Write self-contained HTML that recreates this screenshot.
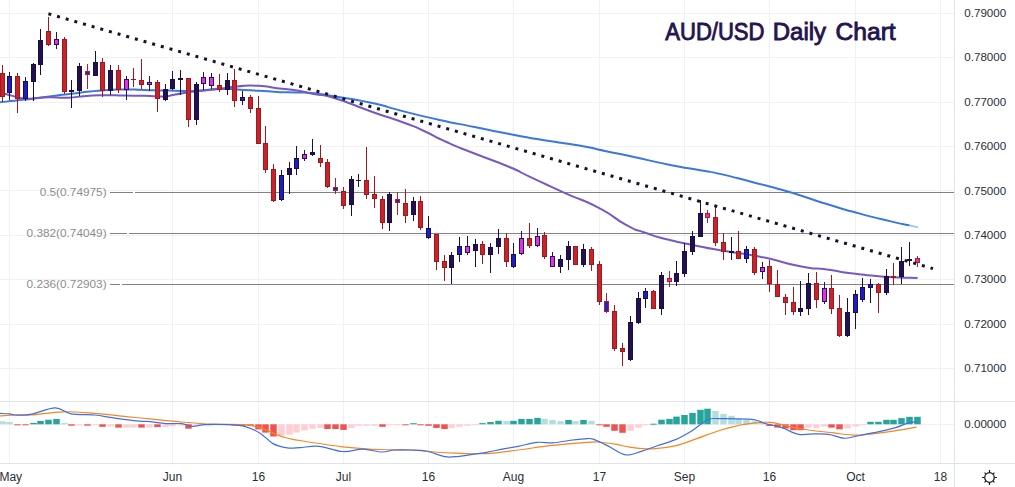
<!DOCTYPE html><html><head><meta charset="utf-8"><style>html,body{margin:0;padding:0;background:#fff;width:1015px;height:487px;overflow:hidden}svg{display:block}text{font-family:"Liberation Sans",sans-serif}</style></head><body>
<svg width="1015" height="487" viewBox="0 0 1015 487" shape-rendering="crispEdges">
<rect width="1015" height="487" fill="#fff"/>
<path d="M0 13.5H954 M0 57.5H954 M0 102.5H954 M0 146.5H954 M0 190.5H954 M0 235.5H954 M0 279.5H954 M0 324.5H954 M0 368.5H954 M0 424.5H954 M9.5 0V463 M172.5 0V463 M258.5 0V463 M343.5 0V463 M428.5 0V463 M513.5 0V463 M599.5 0V463 M684.5 0V463 M769.5 0V463 M855.5 0V463 M940.5 0V463" stroke="#f0f1f4" stroke-width="1" fill="none"/>
<path d="M0 401.5H1015 M0 463.5H1015 M954.5 0V487" stroke="#e0e3eb" stroke-width="1" fill="none"/>
<path d="M110 192.5H132.5 M134.5 192.5H954 M110 233.5H126.8 M128.8 233.5H954 M110 284.5H119.8 M122 284.5H954" stroke="#828282" stroke-width="1" fill="none"/>
<text x="106.6" y="196.0" font-size="11.8" fill="#8d8d8f" text-anchor="end">0.5(0.74975)</text>
<text x="106.6" y="237.0" font-size="11.8" fill="#8d8d8f" text-anchor="end">0.382(0.74049)</text>
<text x="106.6" y="288.0" font-size="11.8" fill="#8d8d8f" text-anchor="end">0.236(0.72903)</text>
<path d="M0.0 102.3C8.2 101.4 8.2 101.5 24.6 99.6C41.0 97.7 32.9 98.6 49.3 96.5C65.7 94.4 57.5 95.3 73.9 93.4C90.3 91.5 81.5 92.0 98.5 90.7C115.5 89.4 109.6 89.7 125.0 89.5C140.4 89.3 129.8 89.6 144.6 90.0C159.4 90.4 152.9 90.3 169.3 90.6C185.7 90.9 177.5 91.4 193.9 90.9C210.3 90.4 203.1 89.4 218.5 89.0C233.9 88.6 226.7 89.1 240.0 89.7C253.3 90.3 246.2 90.0 258.5 90.7C270.8 91.4 264.7 91.3 277.0 91.9C289.3 92.5 283.1 92.0 295.4 92.4C307.7 92.8 300.7 91.8 313.9 93.2C327.1 94.6 316.3 93.5 334.9 96.6C353.5 99.7 346.5 97.6 369.8 102.6C393.1 107.6 381.4 105.8 404.7 111.6C428.0 117.4 416.3 114.9 439.6 120.0C462.9 125.1 451.2 122.3 474.5 127.0C497.8 131.7 486.2 129.6 509.4 134.0C532.6 138.4 520.9 136.5 544.2 140.3C567.5 144.1 558.9 141.9 579.2 145.5C599.5 149.1 586.8 147.2 605.0 151.0C623.2 154.8 613.0 152.5 633.9 157.0C654.8 161.5 645.2 159.9 667.8 164.4C690.4 168.9 684.3 167.3 701.7 170.5C719.1 173.7 702.3 169.8 720.0 173.9C737.7 178.0 731.6 176.7 754.7 182.7C777.8 188.7 765.4 184.9 789.4 192.0C813.4 199.1 803.6 196.9 826.8 204.0C850.0 211.1 837.5 207.6 858.9 213.4C880.3 219.2 874.0 217.4 890.9 221.4C907.8 225.4 903.4 224.1 909.6 225.4" fill="none" stroke="#3a78de" stroke-width="2" shape-rendering="geometricPrecision" stroke-linejoin="round"/>
<path d="M909.6 225.4L918 227.4" fill="none" stroke="#a8c0ee" stroke-width="2" shape-rendering="geometricPrecision"/>
<path d="M0.0 92.0C4.1 93.3 4.1 93.7 12.3 95.9C20.5 98.1 16.4 97.9 24.6 98.6C32.8 99.3 28.8 98.4 37.0 98.0C45.2 97.6 39.1 97.4 49.3 97.3C59.5 97.2 55.4 98.2 67.7 97.7C80.0 97.2 73.9 96.7 86.2 95.9C98.5 95.1 91.8 95.3 104.7 95.2C117.6 95.1 111.7 95.4 125.0 95.6C138.3 95.8 131.9 95.5 144.6 95.8C157.3 96.1 152.7 96.8 163.0 96.4C173.3 96.0 165.1 96.2 175.4 94.6C185.7 93.0 179.5 93.4 193.9 91.5C208.3 89.6 204.1 90.7 218.5 89.0C232.9 87.3 223.7 87.6 237.0 86.5C250.3 85.4 245.2 85.2 258.5 85.8C271.8 86.4 264.7 86.7 277.0 88.2C289.3 89.7 283.1 88.4 295.4 90.3C307.7 92.2 300.7 91.4 313.9 94.0C327.1 96.6 316.3 92.5 334.9 98.2C353.5 103.9 346.5 102.7 369.8 111.0C393.1 119.3 386.6 116.3 404.7 123.0C422.8 129.7 410.1 124.7 424.0 131.0C437.9 137.3 429.7 134.5 446.5 142.0C463.3 149.5 453.5 145.2 474.5 153.5C495.5 161.8 490.9 159.2 509.4 167.0C527.9 174.8 511.8 168.3 530.0 176.8C548.2 185.3 541.3 182.4 563.9 192.6C586.5 202.8 577.1 196.6 597.8 207.3C618.5 218.0 610.2 216.3 626.0 224.8C641.8 233.3 631.3 227.8 645.2 232.7C659.1 237.6 652.7 235.6 667.8 239.5C682.9 243.4 673.0 240.8 690.4 244.4C707.8 248.0 696.8 246.2 720.0 250.3C743.2 254.4 733.3 251.4 760.0 256.7C786.7 262.0 777.8 262.0 800.1 266.3C822.4 270.6 809.0 267.1 826.8 269.5C844.6 271.9 833.9 271.1 853.5 273.5C873.1 275.9 864.2 275.2 885.6 276.7C907.0 278.2 906.9 277.6 917.6 278.0" fill="none" stroke="#765ac2" stroke-width="2" shape-rendering="geometricPrecision" stroke-linejoin="round"/>
<rect x="2" y="64.5" width="1" height="37.5" fill="#a3161c"/>
<rect x="0" y="73.0" width="5" height="24.3" fill="#a3161c"/>
<rect x="1" y="74.0" width="3" height="22.3" fill="#c4242b"/>
<rect x="9" y="72.0" width="1" height="27.8" fill="#1c0d45"/>
<rect x="7" y="75.9" width="5" height="17.0" fill="#1c0d45"/>
<rect x="8" y="76.9" width="3" height="15.0" fill="#1c1ccc"/>
<rect x="17" y="73.0" width="1" height="40.0" fill="#a3161c"/>
<rect x="15" y="75.9" width="5" height="22.6" fill="#a3161c"/>
<rect x="16" y="76.9" width="3" height="20.6" fill="#c4242b"/>
<rect x="25" y="77.0" width="1" height="23.5" fill="#1c0d45"/>
<rect x="23" y="80.8" width="5" height="17.7" fill="#1c0d45"/>
<rect x="24" y="81.8" width="3" height="15.7" fill="#1c1ccc"/>
<rect x="33" y="62.8" width="1" height="38.2" fill="#1c0d45"/>
<rect x="31" y="63.5" width="5" height="18.3" fill="#1c0d45"/>
<rect x="32" y="64.5" width="3" height="16.3" fill="#22104f"/>
<rect x="40" y="29.0" width="1" height="45.6" fill="#1c0d45"/>
<rect x="38" y="39.9" width="5" height="24.9" fill="#1c0d45"/>
<rect x="39" y="40.9" width="3" height="22.9" fill="#22104f"/>
<rect x="48" y="17.3" width="1" height="28.3" fill="#a3161c"/>
<rect x="46" y="31.1" width="5" height="13.8" fill="#a3161c"/>
<rect x="47" y="32.1" width="3" height="11.8" fill="#c4242b"/>
<rect x="56" y="32.0" width="1" height="16.6" fill="#2a1060"/>
<rect x="54" y="39.1" width="5" height="5.8" fill="#2a1060"/>
<rect x="55" y="40.1" width="3" height="3.8" fill="#e62ee6"/>
<rect x="64" y="37.0" width="1" height="56.6" fill="#a3161c"/>
<rect x="62" y="38.7" width="5" height="53.7" fill="#a3161c"/>
<rect x="63" y="39.7" width="3" height="51.7" fill="#c4242b"/>
<rect x="71" y="80.0" width="1" height="27.6" fill="#1c0d45"/>
<rect x="69" y="90.0" width="5" height="1.6" fill="#1c0d45"/>
<rect x="79" y="63.0" width="1" height="32.6" fill="#1c0d45"/>
<rect x="77" y="66.0" width="5" height="24.6" fill="#1c0d45"/>
<rect x="78" y="67.0" width="3" height="22.6" fill="#22104f"/>
<rect x="87" y="64.0" width="1" height="24.7" fill="#b0202a"/>
<rect x="85" y="71.0" width="5" height="4.4" fill="#b0202a"/>
<rect x="86" y="72.0" width="3" height="2.4" fill="#2222c8"/>
<rect x="95" y="51.2" width="1" height="25.2" fill="#1c0d45"/>
<rect x="93" y="62.3" width="5" height="13.6" fill="#1c0d45"/>
<rect x="94" y="63.3" width="3" height="11.6" fill="#22104f"/>
<rect x="102" y="58.4" width="1" height="38.9" fill="#a3161c"/>
<rect x="100" y="62.0" width="5" height="28.6" fill="#a3161c"/>
<rect x="101" y="63.0" width="3" height="26.6" fill="#c4242b"/>
<rect x="110" y="65.3" width="1" height="29.5" fill="#1c0d45"/>
<rect x="108" y="70.2" width="5" height="20.4" fill="#1c0d45"/>
<rect x="109" y="71.2" width="3" height="18.4" fill="#22104f"/>
<rect x="118" y="65.3" width="1" height="27.8" fill="#a3161c"/>
<rect x="116" y="70.2" width="5" height="19.7" fill="#a3161c"/>
<rect x="117" y="71.2" width="3" height="17.7" fill="#c4242b"/>
<rect x="126" y="76.4" width="1" height="23.4" fill="#2a1060"/>
<rect x="124" y="79.3" width="5" height="10.6" fill="#2a1060"/>
<rect x="125" y="80.3" width="3" height="8.6" fill="#e62ee6"/>
<rect x="133" y="67.7" width="1" height="19.7" fill="#a3161c"/>
<rect x="131" y="78.8" width="5" height="1.5" fill="#a3161c"/>
<rect x="141" y="59.0" width="1" height="29.7" fill="#a3161c"/>
<rect x="139" y="80.0" width="5" height="4.5" fill="#a3161c"/>
<rect x="140" y="81.0" width="3" height="2.5" fill="#c4242b"/>
<rect x="149" y="76.4" width="1" height="14.7" fill="#2a1060"/>
<rect x="147" y="82.0" width="5" height="2.5" fill="#2a1060"/>
<rect x="148" y="83.0" width="3" height="0.5" fill="#e62ee6"/>
<rect x="157" y="80.0" width="1" height="32.0" fill="#a3161c"/>
<rect x="155" y="82.0" width="5" height="16.5" fill="#a3161c"/>
<rect x="156" y="83.0" width="3" height="14.5" fill="#c4242b"/>
<rect x="165" y="83.7" width="1" height="17.3" fill="#1c0d45"/>
<rect x="163" y="89.2" width="5" height="10.6" fill="#1c0d45"/>
<rect x="164" y="90.2" width="3" height="8.6" fill="#22104f"/>
<rect x="172" y="71.4" width="1" height="19.0" fill="#1c0d45"/>
<rect x="170" y="78.8" width="5" height="10.4" fill="#1c0d45"/>
<rect x="171" y="79.8" width="3" height="8.4" fill="#22104f"/>
<rect x="180" y="69.5" width="1" height="25.3" fill="#1c0d45"/>
<rect x="178" y="78.3" width="5" height="1.2" fill="#1c0d45"/>
<rect x="188" y="77.6" width="1" height="48.9" fill="#a3161c"/>
<rect x="186" y="78.0" width="5" height="42.3" fill="#a3161c"/>
<rect x="187" y="79.0" width="3" height="40.3" fill="#c4242b"/>
<rect x="196" y="82.2" width="1" height="42.3" fill="#1c0d45"/>
<rect x="194" y="83.9" width="5" height="36.4" fill="#1c0d45"/>
<rect x="195" y="84.9" width="3" height="34.4" fill="#22104f"/>
<rect x="203" y="72.2" width="1" height="17.8" fill="#2a1060"/>
<rect x="201" y="77.0" width="5" height="7.2" fill="#2a1060"/>
<rect x="202" y="78.0" width="3" height="5.2" fill="#e62ee6"/>
<rect x="211" y="73.2" width="1" height="16.0" fill="#2a1060"/>
<rect x="209" y="77.0" width="5" height="8.5" fill="#2a1060"/>
<rect x="210" y="78.0" width="3" height="6.5" fill="#e62ee6"/>
<rect x="219" y="74.0" width="1" height="18.4" fill="#a3161c"/>
<rect x="217" y="85.0" width="5" height="5.0" fill="#a3161c"/>
<rect x="218" y="86.0" width="3" height="3.0" fill="#c4242b"/>
<rect x="227" y="73.2" width="1" height="21.6" fill="#1c0d45"/>
<rect x="225" y="80.0" width="5" height="10.0" fill="#1c0d45"/>
<rect x="226" y="81.0" width="3" height="8.0" fill="#22104f"/>
<rect x="234" y="68.6" width="1" height="38.7" fill="#a3161c"/>
<rect x="232" y="80.2" width="5" height="20.4" fill="#a3161c"/>
<rect x="233" y="81.2" width="3" height="18.4" fill="#c4242b"/>
<rect x="242" y="90.8" width="1" height="14.0" fill="#1c0d45"/>
<rect x="240" y="97.4" width="5" height="3.2" fill="#1c0d45"/>
<rect x="241" y="98.4" width="3" height="1.2" fill="#1c1ccc"/>
<rect x="250" y="94.5" width="1" height="18.5" fill="#a3161c"/>
<rect x="248" y="96.5" width="5" height="12.0" fill="#a3161c"/>
<rect x="249" y="97.5" width="3" height="10.0" fill="#c4242b"/>
<rect x="258" y="95.7" width="1" height="48.0" fill="#a3161c"/>
<rect x="256" y="108.0" width="5" height="35.7" fill="#a3161c"/>
<rect x="257" y="109.0" width="3" height="33.7" fill="#c4242b"/>
<rect x="265" y="126.0" width="1" height="47.4" fill="#a3161c"/>
<rect x="263" y="143.3" width="5" height="26.4" fill="#a3161c"/>
<rect x="264" y="144.3" width="3" height="24.4" fill="#c4242b"/>
<rect x="273" y="163.5" width="1" height="38.2" fill="#a3161c"/>
<rect x="271" y="169.2" width="5" height="31.8" fill="#a3161c"/>
<rect x="272" y="170.2" width="3" height="29.8" fill="#c4242b"/>
<rect x="281" y="170.2" width="1" height="30.3" fill="#1c0d45"/>
<rect x="279" y="175.1" width="5" height="24.7" fill="#1c0d45"/>
<rect x="280" y="176.1" width="3" height="22.7" fill="#1c1ccc"/>
<rect x="289" y="161.8" width="1" height="32.0" fill="#1c0d45"/>
<rect x="287" y="168.0" width="5" height="7.4" fill="#1c0d45"/>
<rect x="288" y="169.0" width="3" height="5.4" fill="#22104f"/>
<rect x="296" y="146.2" width="1" height="28.4" fill="#1c0d45"/>
<rect x="294" y="158.1" width="5" height="10.4" fill="#1c0d45"/>
<rect x="295" y="159.1" width="3" height="8.4" fill="#1c1ccc"/>
<rect x="304" y="150.0" width="1" height="11.0" fill="#2a1060"/>
<rect x="302" y="154.2" width="5" height="4.4" fill="#2a1060"/>
<rect x="303" y="155.2" width="3" height="2.4" fill="#e62ee6"/>
<rect x="312" y="139.3" width="1" height="16.3" fill="#1c0d45"/>
<rect x="310" y="152.4" width="5" height="2.2" fill="#1c0d45"/>
<rect x="320" y="145.0" width="1" height="21.7" fill="#a3161c"/>
<rect x="318" y="158.1" width="5" height="4.7" fill="#a3161c"/>
<rect x="319" y="159.1" width="3" height="2.7" fill="#c4242b"/>
<rect x="327" y="159.4" width="1" height="28.8" fill="#a3161c"/>
<rect x="325" y="161.8" width="5" height="25.6" fill="#a3161c"/>
<rect x="326" y="162.8" width="3" height="23.6" fill="#c4242b"/>
<rect x="335" y="178.3" width="1" height="16.0" fill="#b0202a"/>
<rect x="333" y="187.4" width="5" height="3.7" fill="#b0202a"/>
<rect x="334" y="188.4" width="3" height="1.7" fill="#2222c8"/>
<rect x="343" y="187.0" width="1" height="22.1" fill="#a3161c"/>
<rect x="341" y="191.1" width="5" height="15.1" fill="#a3161c"/>
<rect x="342" y="192.1" width="3" height="13.1" fill="#c4242b"/>
<rect x="351" y="175.9" width="1" height="40.1" fill="#1c0d45"/>
<rect x="349" y="179.0" width="5" height="26.4" fill="#1c0d45"/>
<rect x="350" y="180.0" width="3" height="24.4" fill="#22104f"/>
<rect x="358" y="174.1" width="1" height="13.3" fill="#1c0d45"/>
<rect x="356" y="180.0" width="5" height="1.2" fill="#1c0d45"/>
<rect x="366" y="146.7" width="1" height="52.6" fill="#a3161c"/>
<rect x="364" y="180.0" width="5" height="14.8" fill="#a3161c"/>
<rect x="365" y="181.0" width="3" height="12.8" fill="#c4242b"/>
<rect x="374" y="175.9" width="1" height="32.0" fill="#a3161c"/>
<rect x="372" y="194.3" width="5" height="5.0" fill="#a3161c"/>
<rect x="373" y="195.3" width="3" height="3.0" fill="#c4242b"/>
<rect x="382" y="195.6" width="1" height="33.2" fill="#a3161c"/>
<rect x="380" y="198.8" width="5" height="24.6" fill="#a3161c"/>
<rect x="381" y="199.8" width="3" height="22.6" fill="#c4242b"/>
<rect x="389" y="192.4" width="1" height="38.9" fill="#1c0d45"/>
<rect x="387" y="193.8" width="5" height="29.6" fill="#1c0d45"/>
<rect x="388" y="194.8" width="3" height="27.6" fill="#22104f"/>
<rect x="397" y="192.4" width="1" height="22.1" fill="#b0202a"/>
<rect x="395" y="199.3" width="5" height="4.1" fill="#b0202a"/>
<rect x="396" y="200.3" width="3" height="2.1" fill="#2222c8"/>
<rect x="405" y="188.9" width="1" height="34.5" fill="#a3161c"/>
<rect x="403" y="203.0" width="5" height="13.0" fill="#a3161c"/>
<rect x="404" y="204.0" width="3" height="11.0" fill="#c4242b"/>
<rect x="413" y="197.3" width="1" height="24.1" fill="#1c0d45"/>
<rect x="411" y="201.0" width="5" height="14.3" fill="#1c0d45"/>
<rect x="412" y="202.0" width="3" height="12.3" fill="#22104f"/>
<rect x="420" y="195.6" width="1" height="34.4" fill="#a3161c"/>
<rect x="418" y="201.0" width="5" height="27.3" fill="#a3161c"/>
<rect x="419" y="202.0" width="3" height="25.3" fill="#c4242b"/>
<rect x="428" y="216.0" width="1" height="22.7" fill="#1c0d45"/>
<rect x="426" y="227.6" width="5" height="10.6" fill="#1c0d45"/>
<rect x="427" y="228.6" width="3" height="8.6" fill="#1c1ccc"/>
<rect x="436" y="234.0" width="1" height="36.2" fill="#a3161c"/>
<rect x="434" y="234.0" width="5" height="27.6" fill="#a3161c"/>
<rect x="435" y="235.0" width="3" height="25.6" fill="#c4242b"/>
<rect x="444" y="254.7" width="1" height="26.1" fill="#a3161c"/>
<rect x="442" y="261.0" width="5" height="6.7" fill="#a3161c"/>
<rect x="443" y="262.0" width="3" height="4.7" fill="#c4242b"/>
<rect x="451" y="252.2" width="1" height="32.0" fill="#1c0d45"/>
<rect x="449" y="255.4" width="5" height="12.3" fill="#1c0d45"/>
<rect x="450" y="256.4" width="3" height="10.3" fill="#22104f"/>
<rect x="459" y="236.5" width="1" height="25.1" fill="#1c0d45"/>
<rect x="457" y="246.3" width="5" height="9.1" fill="#1c0d45"/>
<rect x="458" y="247.3" width="3" height="7.1" fill="#1c1ccc"/>
<rect x="467" y="235.7" width="1" height="19.0" fill="#2a1060"/>
<rect x="465" y="246.3" width="5" height="6.7" fill="#2a1060"/>
<rect x="466" y="247.3" width="3" height="4.7" fill="#e62ee6"/>
<rect x="475" y="239.4" width="1" height="27.1" fill="#1c0d45"/>
<rect x="473" y="244.3" width="5" height="6.2" fill="#1c0d45"/>
<rect x="474" y="245.3" width="3" height="4.2" fill="#22104f"/>
<rect x="482" y="240.6" width="1" height="22.9" fill="#a3161c"/>
<rect x="480" y="244.3" width="5" height="11.1" fill="#a3161c"/>
<rect x="481" y="245.3" width="3" height="9.1" fill="#c4242b"/>
<rect x="490" y="243.1" width="1" height="29.6" fill="#1c0d45"/>
<rect x="488" y="247.3" width="5" height="8.1" fill="#1c0d45"/>
<rect x="489" y="248.3" width="3" height="6.1" fill="#22104f"/>
<rect x="498" y="229.0" width="1" height="24.7" fill="#1c0d45"/>
<rect x="496" y="238.2" width="5" height="9.1" fill="#1c0d45"/>
<rect x="497" y="239.2" width="3" height="7.1" fill="#22104f"/>
<rect x="506" y="233.3" width="1" height="33.2" fill="#a3161c"/>
<rect x="504" y="238.2" width="5" height="23.4" fill="#a3161c"/>
<rect x="505" y="239.2" width="3" height="21.4" fill="#c4242b"/>
<rect x="513" y="243.1" width="1" height="24.6" fill="#1c0d45"/>
<rect x="511" y="254.2" width="5" height="12.3" fill="#1c0d45"/>
<rect x="512" y="255.2" width="3" height="10.3" fill="#1c1ccc"/>
<rect x="521" y="230.8" width="1" height="23.9" fill="#2a1060"/>
<rect x="519" y="238.2" width="5" height="16.0" fill="#2a1060"/>
<rect x="520" y="239.2" width="3" height="14.0" fill="#e62ee6"/>
<rect x="529" y="223.4" width="1" height="24.6" fill="#a3161c"/>
<rect x="527" y="238.2" width="5" height="7.4" fill="#a3161c"/>
<rect x="528" y="239.2" width="3" height="5.4" fill="#c4242b"/>
<rect x="537" y="228.3" width="1" height="18.5" fill="#2a1060"/>
<rect x="535" y="235.7" width="5" height="9.9" fill="#2a1060"/>
<rect x="536" y="236.7" width="3" height="7.9" fill="#e62ee6"/>
<rect x="544" y="232.0" width="1" height="27.1" fill="#a3161c"/>
<rect x="542" y="235.0" width="5" height="21.7" fill="#a3161c"/>
<rect x="543" y="236.0" width="3" height="19.7" fill="#c4242b"/>
<rect x="552" y="251.7" width="1" height="15.3" fill="#2a1060"/>
<rect x="550" y="256.2" width="5" height="10.8" fill="#2a1060"/>
<rect x="551" y="257.2" width="3" height="8.8" fill="#e62ee6"/>
<rect x="560" y="255.4" width="1" height="17.3" fill="#1c0d45"/>
<rect x="558" y="259.1" width="5" height="7.9" fill="#1c0d45"/>
<rect x="559" y="260.1" width="3" height="5.9" fill="#22104f"/>
<rect x="568" y="240.6" width="1" height="28.9" fill="#1c0d45"/>
<rect x="566" y="246.3" width="5" height="13.3" fill="#1c0d45"/>
<rect x="567" y="247.3" width="3" height="11.3" fill="#22104f"/>
<rect x="575" y="245.6" width="1" height="19.7" fill="#a3161c"/>
<rect x="573" y="245.6" width="5" height="19.7" fill="#a3161c"/>
<rect x="574" y="246.6" width="3" height="17.7" fill="#c4242b"/>
<rect x="583" y="243.8" width="1" height="22.7" fill="#1c0d45"/>
<rect x="581" y="248.8" width="5" height="16.5" fill="#1c0d45"/>
<rect x="582" y="249.8" width="3" height="14.5" fill="#22104f"/>
<rect x="591" y="247.3" width="1" height="24.1" fill="#a3161c"/>
<rect x="589" y="248.8" width="5" height="15.7" fill="#a3161c"/>
<rect x="590" y="249.8" width="3" height="13.7" fill="#c4242b"/>
<rect x="599" y="261.0" width="1" height="44.4" fill="#a3161c"/>
<rect x="597" y="264.3" width="5" height="37.3" fill="#a3161c"/>
<rect x="598" y="265.3" width="3" height="35.3" fill="#c4242b"/>
<rect x="606" y="293.3" width="1" height="19.4" fill="#b0202a"/>
<rect x="604" y="301.2" width="5" height="10.3" fill="#b0202a"/>
<rect x="605" y="302.2" width="3" height="8.3" fill="#2222c8"/>
<rect x="614" y="305.4" width="1" height="45.1" fill="#a3161c"/>
<rect x="612" y="311.0" width="5" height="38.3" fill="#a3161c"/>
<rect x="613" y="312.0" width="3" height="36.3" fill="#c4242b"/>
<rect x="622" y="343.1" width="1" height="23.2" fill="#a3161c"/>
<rect x="620" y="348.0" width="5" height="3.5" fill="#a3161c"/>
<rect x="621" y="349.0" width="3" height="1.5" fill="#c4242b"/>
<rect x="630" y="316.0" width="1" height="44.8" fill="#1c0d45"/>
<rect x="628" y="322.2" width="5" height="38.1" fill="#1c0d45"/>
<rect x="629" y="323.2" width="3" height="36.1" fill="#22104f"/>
<rect x="638" y="292.4" width="1" height="32.0" fill="#1c0d45"/>
<rect x="636" y="298.0" width="5" height="25.4" fill="#1c0d45"/>
<rect x="637" y="299.0" width="3" height="23.4" fill="#22104f"/>
<rect x="645" y="288.2" width="1" height="19.3" fill="#1c0d45"/>
<rect x="643" y="291.3" width="5" height="7.2" fill="#1c0d45"/>
<rect x="644" y="292.3" width="3" height="5.2" fill="#1c1ccc"/>
<rect x="653" y="289.6" width="1" height="19.4" fill="#a3161c"/>
<rect x="651" y="290.8" width="5" height="18.2" fill="#a3161c"/>
<rect x="652" y="291.8" width="3" height="16.2" fill="#c4242b"/>
<rect x="661" y="272.0" width="1" height="42.5" fill="#1c0d45"/>
<rect x="659" y="275.1" width="5" height="33.7" fill="#1c0d45"/>
<rect x="660" y="276.1" width="3" height="31.7" fill="#22104f"/>
<rect x="669" y="271.2" width="1" height="15.3" fill="#b0202a"/>
<rect x="667" y="278.3" width="5" height="3.2" fill="#b0202a"/>
<rect x="668" y="279.3" width="3" height="1.2" fill="#e8309a"/>
<rect x="676" y="261.2" width="1" height="24.3" fill="#1c0d45"/>
<rect x="674" y="273.3" width="5" height="8.5" fill="#1c0d45"/>
<rect x="675" y="274.3" width="3" height="6.5" fill="#22104f"/>
<rect x="684" y="243.0" width="1" height="34.0" fill="#1c0d45"/>
<rect x="682" y="251.1" width="5" height="22.9" fill="#1c0d45"/>
<rect x="683" y="252.1" width="3" height="20.9" fill="#22104f"/>
<rect x="692" y="231.4" width="1" height="23.9" fill="#1c0d45"/>
<rect x="690" y="236.3" width="5" height="15.3" fill="#1c0d45"/>
<rect x="691" y="237.3" width="3" height="13.3" fill="#22104f"/>
<rect x="700" y="200.3" width="1" height="36.5" fill="#1c0d45"/>
<rect x="698" y="213.4" width="5" height="23.4" fill="#1c0d45"/>
<rect x="699" y="214.4" width="3" height="21.4" fill="#22104f"/>
<rect x="707" y="210.2" width="1" height="13.1" fill="#b0202a"/>
<rect x="705" y="213.4" width="5" height="4.2" fill="#b0202a"/>
<rect x="706" y="214.4" width="3" height="2.2" fill="#e8309a"/>
<rect x="715" y="204.8" width="1" height="41.4" fill="#a3161c"/>
<rect x="713" y="217.1" width="5" height="25.9" fill="#a3161c"/>
<rect x="714" y="218.1" width="3" height="23.9" fill="#c4242b"/>
<rect x="723" y="233.1" width="1" height="26.4" fill="#a3161c"/>
<rect x="721" y="242.2" width="5" height="9.4" fill="#a3161c"/>
<rect x="722" y="243.2" width="3" height="7.4" fill="#c4242b"/>
<rect x="731" y="236.8" width="1" height="22.7" fill="#1c0d45"/>
<rect x="729" y="251.4" width="5" height="1.2" fill="#1c0d45"/>
<rect x="738" y="231.4" width="1" height="27.1" fill="#a3161c"/>
<rect x="736" y="251.0" width="5" height="7.5" fill="#a3161c"/>
<rect x="737" y="252.0" width="3" height="5.5" fill="#c4242b"/>
<rect x="746" y="246.2" width="1" height="17.2" fill="#1c0d45"/>
<rect x="744" y="249.1" width="5" height="9.4" fill="#1c0d45"/>
<rect x="745" y="250.1" width="3" height="7.4" fill="#1c1ccc"/>
<rect x="754" y="247.1" width="1" height="27.9" fill="#a3161c"/>
<rect x="752" y="248.6" width="5" height="24.7" fill="#a3161c"/>
<rect x="753" y="249.6" width="3" height="22.7" fill="#c4242b"/>
<rect x="762" y="262.1" width="1" height="17.3" fill="#2a1060"/>
<rect x="760" y="266.5" width="5" height="5.8" fill="#2a1060"/>
<rect x="761" y="267.5" width="3" height="3.8" fill="#e62ee6"/>
<rect x="769" y="260.0" width="1" height="31.5" fill="#a3161c"/>
<rect x="767" y="266.0" width="5" height="18.2" fill="#a3161c"/>
<rect x="768" y="267.0" width="3" height="16.2" fill="#c4242b"/>
<rect x="777" y="270.2" width="1" height="26.4" fill="#a3161c"/>
<rect x="775" y="284.2" width="5" height="12.4" fill="#a3161c"/>
<rect x="776" y="285.2" width="3" height="10.4" fill="#c4242b"/>
<rect x="785" y="294.3" width="1" height="21.0" fill="#a3161c"/>
<rect x="783" y="296.6" width="5" height="6.1" fill="#a3161c"/>
<rect x="784" y="297.6" width="3" height="4.1" fill="#c4242b"/>
<rect x="793" y="286.9" width="1" height="27.7" fill="#a3161c"/>
<rect x="791" y="302.1" width="5" height="9.6" fill="#a3161c"/>
<rect x="792" y="303.1" width="3" height="7.6" fill="#c4242b"/>
<rect x="800" y="281.0" width="1" height="35.0" fill="#1c0d45"/>
<rect x="798" y="308.0" width="5" height="3.7" fill="#1c0d45"/>
<rect x="799" y="309.0" width="3" height="1.7" fill="#22104f"/>
<rect x="808" y="273.2" width="1" height="41.4" fill="#1c0d45"/>
<rect x="806" y="283.2" width="5" height="25.6" fill="#1c0d45"/>
<rect x="807" y="284.2" width="3" height="23.6" fill="#22104f"/>
<rect x="816" y="271.9" width="1" height="36.5" fill="#a3161c"/>
<rect x="814" y="283.1" width="5" height="16.4" fill="#a3161c"/>
<rect x="815" y="284.1" width="3" height="14.4" fill="#c4242b"/>
<rect x="824" y="282.2" width="1" height="21.3" fill="#2a1060"/>
<rect x="822" y="288.1" width="5" height="13.4" fill="#2a1060"/>
<rect x="823" y="289.1" width="3" height="11.4" fill="#e62ee6"/>
<rect x="831" y="274.8" width="1" height="38.7" fill="#a3161c"/>
<rect x="829" y="287.8" width="5" height="21.1" fill="#a3161c"/>
<rect x="830" y="288.8" width="3" height="19.1" fill="#c4242b"/>
<rect x="839" y="295.0" width="1" height="42.2" fill="#a3161c"/>
<rect x="837" y="307.8" width="5" height="28.3" fill="#a3161c"/>
<rect x="838" y="308.8" width="3" height="26.3" fill="#c4242b"/>
<rect x="847" y="297.5" width="1" height="39.7" fill="#1c0d45"/>
<rect x="845" y="311.7" width="5" height="23.9" fill="#1c0d45"/>
<rect x="846" y="312.7" width="3" height="21.9" fill="#22104f"/>
<rect x="855" y="289.8" width="1" height="39.1" fill="#1c0d45"/>
<rect x="853" y="293.8" width="5" height="19.2" fill="#1c0d45"/>
<rect x="854" y="294.8" width="3" height="17.2" fill="#1c1ccc"/>
<rect x="862" y="278.0" width="1" height="24.0" fill="#1c0d45"/>
<rect x="860" y="286.8" width="5" height="13.2" fill="#1c0d45"/>
<rect x="861" y="287.8" width="3" height="11.2" fill="#1c1ccc"/>
<rect x="870" y="279.0" width="1" height="23.5" fill="#1c0d45"/>
<rect x="868" y="284.2" width="5" height="3.3" fill="#1c0d45"/>
<rect x="869" y="285.2" width="3" height="1.3" fill="#1c1ccc"/>
<rect x="878" y="283.3" width="1" height="29.7" fill="#a3161c"/>
<rect x="876" y="283.7" width="5" height="8.8" fill="#a3161c"/>
<rect x="877" y="284.7" width="3" height="6.8" fill="#c4242b"/>
<rect x="886" y="268.8" width="1" height="26.2" fill="#1c0d45"/>
<rect x="884" y="276.3" width="5" height="16.7" fill="#1c0d45"/>
<rect x="885" y="277.3" width="3" height="14.7" fill="#22104f"/>
<rect x="893" y="262.7" width="1" height="22.4" fill="#a3161c"/>
<rect x="891" y="276.3" width="5" height="1.4" fill="#a3161c"/>
<rect x="901" y="247.0" width="1" height="37.0" fill="#1c0d45"/>
<rect x="899" y="261.3" width="5" height="16.1" fill="#1c0d45"/>
<rect x="900" y="262.3" width="3" height="14.1" fill="#22104f"/>
<rect x="909" y="241.7" width="1" height="24.0" fill="#1c0d45"/>
<rect x="907" y="258.9" width="5" height="2.3" fill="#1c0d45"/>
<rect x="908" y="259.9" width="3" height="0.3" fill="#22104f"/>
<rect x="917" y="256.0" width="1" height="10.6" fill="#b0202a"/>
<rect x="915" y="258.3" width="5" height="4.3" fill="#b0202a"/>
<rect x="916" y="259.3" width="3" height="2.3" fill="#e8309a"/>
<line x1="48.4" y1="13.8" x2="933" y2="268.6" stroke="#14132a" stroke-width="3" stroke-dasharray="3 6" shape-rendering="geometricPrecision"/>
<rect x="-0.75" y="421.3" width="6.5" height="3.0" fill="#b2dfdb" shape-rendering="geometricPrecision"/>
<rect x="6.25" y="422.0" width="6.5" height="2.3" fill="#b2dfdb" shape-rendering="geometricPrecision"/>
<rect x="14.25" y="424.3" width="6.5" height="1.0" fill="#ef5350" shape-rendering="geometricPrecision"/>
<rect x="22.25" y="424.3" width="6.5" height="1.0" fill="#ef5350" shape-rendering="geometricPrecision"/>
<rect x="30.25" y="422.9" width="6.5" height="1.4" fill="#26a69a" shape-rendering="geometricPrecision"/>
<rect x="37.25" y="421.0" width="6.5" height="3.3" fill="#26a69a" shape-rendering="geometricPrecision"/>
<rect x="45.25" y="419.7" width="6.5" height="4.6" fill="#26a69a" shape-rendering="geometricPrecision"/>
<rect x="53.25" y="419.0" width="6.5" height="5.3" fill="#26a69a" shape-rendering="geometricPrecision"/>
<rect x="61.25" y="422.9" width="6.5" height="1.4" fill="#b2dfdb" shape-rendering="geometricPrecision"/>
<rect x="68.25" y="424.3" width="6.5" height="1.4" fill="#ef5350" shape-rendering="geometricPrecision"/>
<rect x="76.25" y="424.3" width="6.5" height="1.2" fill="#ffcdd2" shape-rendering="geometricPrecision"/>
<rect x="84.25" y="424.3" width="6.5" height="1.4" fill="#ef5350" shape-rendering="geometricPrecision"/>
<rect x="92.25" y="424.3" width="6.5" height="1.0" fill="#ffcdd2" shape-rendering="geometricPrecision"/>
<rect x="99.25" y="424.3" width="6.5" height="2.5" fill="#ef5350" shape-rendering="geometricPrecision"/>
<rect x="107.25" y="424.3" width="6.5" height="2.2" fill="#ffcdd2" shape-rendering="geometricPrecision"/>
<rect x="115.25" y="424.3" width="6.5" height="3.3" fill="#ef5350" shape-rendering="geometricPrecision"/>
<rect x="123.25" y="424.3" width="6.5" height="3.3" fill="#ffcdd2" shape-rendering="geometricPrecision"/>
<rect x="130.25" y="424.3" width="6.5" height="3.3" fill="#ffcdd2" shape-rendering="geometricPrecision"/>
<rect x="138.25" y="424.3" width="6.5" height="3.3" fill="#ef5350" shape-rendering="geometricPrecision"/>
<rect x="146.25" y="424.3" width="6.5" height="3.3" fill="#ffcdd2" shape-rendering="geometricPrecision"/>
<rect x="154.25" y="424.3" width="6.5" height="2.8" fill="#ef5350" shape-rendering="geometricPrecision"/>
<rect x="162.25" y="424.3" width="6.5" height="2.8" fill="#ffcdd2" shape-rendering="geometricPrecision"/>
<rect x="169.25" y="424.3" width="6.5" height="2.0" fill="#ffcdd2" shape-rendering="geometricPrecision"/>
<rect x="177.25" y="424.3" width="6.5" height="1.2" fill="#ffcdd2" shape-rendering="geometricPrecision"/>
<rect x="185.25" y="424.3" width="6.5" height="4.4" fill="#ef5350" shape-rendering="geometricPrecision"/>
<rect x="193.25" y="424.3" width="6.5" height="1.0" fill="#ffcdd2" shape-rendering="geometricPrecision"/>
<rect x="200.25" y="424.3" width="6.5" height="1.0" fill="#ffcdd2" shape-rendering="geometricPrecision"/>
<rect x="208.25" y="424.3" width="6.5" height="1.0" fill="#ffcdd2" shape-rendering="geometricPrecision"/>
<rect x="216.25" y="424.3" width="6.5" height="1.0" fill="#ffcdd2" shape-rendering="geometricPrecision"/>
<rect x="224.25" y="424.3" width="6.5" height="1.0" fill="#ffcdd2" shape-rendering="geometricPrecision"/>
<rect x="231.25" y="424.3" width="6.5" height="1.2" fill="#ef5350" shape-rendering="geometricPrecision"/>
<rect x="239.25" y="424.3" width="6.5" height="1.5" fill="#ef5350" shape-rendering="geometricPrecision"/>
<rect x="247.25" y="424.3" width="6.5" height="1.7" fill="#ef5350" shape-rendering="geometricPrecision"/>
<rect x="255.25" y="424.3" width="6.5" height="5.1" fill="#ef5350" shape-rendering="geometricPrecision"/>
<rect x="262.25" y="424.3" width="6.5" height="8.3" fill="#ef5350" shape-rendering="geometricPrecision"/>
<rect x="270.25" y="424.3" width="6.5" height="12.2" fill="#ef5350" shape-rendering="geometricPrecision"/>
<rect x="278.25" y="424.3" width="6.5" height="11.5" fill="#ffcdd2" shape-rendering="geometricPrecision"/>
<rect x="286.25" y="424.3" width="6.5" height="10.4" fill="#ffcdd2" shape-rendering="geometricPrecision"/>
<rect x="293.25" y="424.3" width="6.5" height="8.3" fill="#ffcdd2" shape-rendering="geometricPrecision"/>
<rect x="301.25" y="424.3" width="6.5" height="6.2" fill="#ffcdd2" shape-rendering="geometricPrecision"/>
<rect x="309.25" y="424.3" width="6.5" height="4.4" fill="#ffcdd2" shape-rendering="geometricPrecision"/>
<rect x="317.25" y="424.3" width="6.5" height="3.6" fill="#ffcdd2" shape-rendering="geometricPrecision"/>
<rect x="324.25" y="424.3" width="6.5" height="4.7" fill="#ef5350" shape-rendering="geometricPrecision"/>
<rect x="332.25" y="424.3" width="6.5" height="4.7" fill="#ef5350" shape-rendering="geometricPrecision"/>
<rect x="340.25" y="424.3" width="6.5" height="5.6" fill="#ef5350" shape-rendering="geometricPrecision"/>
<rect x="348.25" y="424.3" width="6.5" height="3.6" fill="#ffcdd2" shape-rendering="geometricPrecision"/>
<rect x="355.25" y="424.3" width="6.5" height="1.5" fill="#ffcdd2" shape-rendering="geometricPrecision"/>
<rect x="363.25" y="424.3" width="6.5" height="1.5" fill="#ffcdd2" shape-rendering="geometricPrecision"/>
<rect x="371.25" y="424.3" width="6.5" height="1.5" fill="#ffcdd2" shape-rendering="geometricPrecision"/>
<rect x="379.25" y="424.3" width="6.5" height="2.5" fill="#ef5350" shape-rendering="geometricPrecision"/>
<rect x="386.25" y="424.3" width="6.5" height="1.2" fill="#ffcdd2" shape-rendering="geometricPrecision"/>
<rect x="394.25" y="424.3" width="6.5" height="1.0" fill="#ffcdd2" shape-rendering="geometricPrecision"/>
<rect x="402.25" y="424.3" width="6.5" height="1.0" fill="#ef5350" shape-rendering="geometricPrecision"/>
<rect x="410.25" y="423.2" width="6.5" height="1.1" fill="#26a69a" shape-rendering="geometricPrecision"/>
<rect x="417.25" y="424.3" width="6.5" height="1.0" fill="#ef5350" shape-rendering="geometricPrecision"/>
<rect x="425.25" y="424.3" width="6.5" height="1.5" fill="#ef5350" shape-rendering="geometricPrecision"/>
<rect x="433.25" y="424.3" width="6.5" height="3.6" fill="#ef5350" shape-rendering="geometricPrecision"/>
<rect x="441.25" y="424.3" width="6.5" height="4.7" fill="#ef5350" shape-rendering="geometricPrecision"/>
<rect x="448.25" y="424.3" width="6.5" height="3.6" fill="#ffcdd2" shape-rendering="geometricPrecision"/>
<rect x="456.25" y="424.3" width="6.5" height="2.5" fill="#ffcdd2" shape-rendering="geometricPrecision"/>
<rect x="464.25" y="424.3" width="6.5" height="1.5" fill="#ffcdd2" shape-rendering="geometricPrecision"/>
<rect x="472.25" y="424.3" width="6.5" height="1.0" fill="#ffcdd2" shape-rendering="geometricPrecision"/>
<rect x="479.25" y="423.1" width="6.5" height="1.2" fill="#26a69a" shape-rendering="geometricPrecision"/>
<rect x="487.25" y="422.0" width="6.5" height="2.3" fill="#26a69a" shape-rendering="geometricPrecision"/>
<rect x="495.25" y="420.8" width="6.5" height="3.5" fill="#26a69a" shape-rendering="geometricPrecision"/>
<rect x="503.25" y="421.1" width="6.5" height="3.2" fill="#b2dfdb" shape-rendering="geometricPrecision"/>
<rect x="510.25" y="420.8" width="6.5" height="3.5" fill="#26a69a" shape-rendering="geometricPrecision"/>
<rect x="518.25" y="418.9" width="6.5" height="5.4" fill="#26a69a" shape-rendering="geometricPrecision"/>
<rect x="526.25" y="418.9" width="6.5" height="5.4" fill="#26a69a" shape-rendering="geometricPrecision"/>
<rect x="534.25" y="417.9" width="6.5" height="6.4" fill="#26a69a" shape-rendering="geometricPrecision"/>
<rect x="541.25" y="418.9" width="6.5" height="5.4" fill="#b2dfdb" shape-rendering="geometricPrecision"/>
<rect x="549.25" y="420.0" width="6.5" height="4.3" fill="#b2dfdb" shape-rendering="geometricPrecision"/>
<rect x="557.25" y="421.1" width="6.5" height="3.2" fill="#b2dfdb" shape-rendering="geometricPrecision"/>
<rect x="565.25" y="420.0" width="6.5" height="4.3" fill="#26a69a" shape-rendering="geometricPrecision"/>
<rect x="572.25" y="421.1" width="6.5" height="3.2" fill="#b2dfdb" shape-rendering="geometricPrecision"/>
<rect x="580.25" y="420.0" width="6.5" height="4.3" fill="#26a69a" shape-rendering="geometricPrecision"/>
<rect x="588.25" y="420.8" width="6.5" height="3.5" fill="#b2dfdb" shape-rendering="geometricPrecision"/>
<rect x="596.25" y="424.3" width="6.5" height="1.0" fill="#ef5350" shape-rendering="geometricPrecision"/>
<rect x="603.25" y="424.3" width="6.5" height="2.5" fill="#ef5350" shape-rendering="geometricPrecision"/>
<rect x="611.25" y="424.3" width="6.5" height="6.5" fill="#ef5350" shape-rendering="geometricPrecision"/>
<rect x="619.25" y="424.3" width="6.5" height="8.5" fill="#ef5350" shape-rendering="geometricPrecision"/>
<rect x="627.25" y="424.3" width="6.5" height="6.5" fill="#ffcdd2" shape-rendering="geometricPrecision"/>
<rect x="635.25" y="424.3" width="6.5" height="3.3" fill="#ffcdd2" shape-rendering="geometricPrecision"/>
<rect x="642.25" y="424.3" width="6.5" height="1.0" fill="#ffcdd2" shape-rendering="geometricPrecision"/>
<rect x="650.25" y="423.7" width="6.5" height="1.0" fill="#26a69a" shape-rendering="geometricPrecision"/>
<rect x="658.25" y="419.7" width="6.5" height="4.6" fill="#26a69a" shape-rendering="geometricPrecision"/>
<rect x="666.25" y="418.9" width="6.5" height="5.4" fill="#26a69a" shape-rendering="geometricPrecision"/>
<rect x="673.25" y="416.6" width="6.5" height="7.7" fill="#26a69a" shape-rendering="geometricPrecision"/>
<rect x="681.25" y="415.0" width="6.5" height="9.3" fill="#26a69a" shape-rendering="geometricPrecision"/>
<rect x="689.25" y="412.9" width="6.5" height="11.4" fill="#26a69a" shape-rendering="geometricPrecision"/>
<rect x="697.25" y="409.8" width="6.5" height="14.5" fill="#26a69a" shape-rendering="geometricPrecision"/>
<rect x="704.25" y="408.7" width="6.5" height="15.6" fill="#26a69a" shape-rendering="geometricPrecision"/>
<rect x="712.25" y="411.0" width="6.5" height="13.3" fill="#b2dfdb" shape-rendering="geometricPrecision"/>
<rect x="720.25" y="413.9" width="6.5" height="10.4" fill="#b2dfdb" shape-rendering="geometricPrecision"/>
<rect x="728.25" y="415.8" width="6.5" height="8.5" fill="#b2dfdb" shape-rendering="geometricPrecision"/>
<rect x="735.25" y="418.9" width="6.5" height="5.4" fill="#b2dfdb" shape-rendering="geometricPrecision"/>
<rect x="743.25" y="419.7" width="6.5" height="4.6" fill="#b2dfdb" shape-rendering="geometricPrecision"/>
<rect x="751.25" y="421.3" width="6.5" height="3.0" fill="#b2dfdb" shape-rendering="geometricPrecision"/>
<rect x="759.25" y="422.0" width="6.5" height="2.3" fill="#b2dfdb" shape-rendering="geometricPrecision"/>
<rect x="766.25" y="424.3" width="6.5" height="1.7" fill="#ef5350" shape-rendering="geometricPrecision"/>
<rect x="774.25" y="424.3" width="6.5" height="3.3" fill="#ef5350" shape-rendering="geometricPrecision"/>
<rect x="782.25" y="424.3" width="6.5" height="4.2" fill="#ef5350" shape-rendering="geometricPrecision"/>
<rect x="790.25" y="424.3" width="6.5" height="5.9" fill="#ef5350" shape-rendering="geometricPrecision"/>
<rect x="797.25" y="424.3" width="6.5" height="5.9" fill="#ef5350" shape-rendering="geometricPrecision"/>
<rect x="805.25" y="424.3" width="6.5" height="3.3" fill="#ffcdd2" shape-rendering="geometricPrecision"/>
<rect x="813.25" y="424.3" width="6.5" height="3.8" fill="#ffcdd2" shape-rendering="geometricPrecision"/>
<rect x="821.25" y="424.3" width="6.5" height="2.2" fill="#ffcdd2" shape-rendering="geometricPrecision"/>
<rect x="828.25" y="424.3" width="6.5" height="3.3" fill="#ef5350" shape-rendering="geometricPrecision"/>
<rect x="836.25" y="424.3" width="6.5" height="5.0" fill="#ef5350" shape-rendering="geometricPrecision"/>
<rect x="844.25" y="424.3" width="6.5" height="4.2" fill="#ffcdd2" shape-rendering="geometricPrecision"/>
<rect x="852.25" y="424.3" width="6.5" height="2.2" fill="#ffcdd2" shape-rendering="geometricPrecision"/>
<rect x="859.25" y="424.3" width="6.5" height="1.0" fill="#ffcdd2" shape-rendering="geometricPrecision"/>
<rect x="867.25" y="421.8" width="6.5" height="2.5" fill="#26a69a" shape-rendering="geometricPrecision"/>
<rect x="875.25" y="421.8" width="6.5" height="2.5" fill="#26a69a" shape-rendering="geometricPrecision"/>
<rect x="883.25" y="419.8" width="6.5" height="4.5" fill="#26a69a" shape-rendering="geometricPrecision"/>
<rect x="890.25" y="419.8" width="6.5" height="4.5" fill="#26a69a" shape-rendering="geometricPrecision"/>
<rect x="898.25" y="418.1" width="6.5" height="6.2" fill="#26a69a" shape-rendering="geometricPrecision"/>
<rect x="906.25" y="416.8" width="6.5" height="7.5" fill="#26a69a" shape-rendering="geometricPrecision"/>
<rect x="914.25" y="416.8" width="6.5" height="7.5" fill="#26a69a" shape-rendering="geometricPrecision"/>
<path d="M0.0 415.8C2.6 415.7 10.6 415.1 15.8 415.0C21.1 414.9 23.6 415.5 31.5 415.0C39.4 414.5 52.5 412.1 63.0 411.8C73.5 411.5 84.1 412.6 94.6 413.4C105.1 414.2 117.0 415.7 126.2 416.6C135.4 417.5 140.8 418.0 150.0 418.9C159.2 419.8 171.0 421.1 181.5 422.0C192.0 422.9 202.6 423.8 213.1 424.2C223.6 424.6 236.7 424.1 244.6 424.7C252.5 425.3 253.8 425.8 260.4 427.9C267.0 430.0 277.4 435.2 284.0 437.3C290.6 439.4 290.2 438.9 300.0 440.5C309.8 442.1 329.5 445.3 342.6 446.8C355.8 448.3 367.6 449.0 378.9 449.5C390.2 450.0 401.2 449.6 410.4 450.0C419.6 450.4 426.6 451.5 434.0 452.0C441.4 452.5 446.2 452.8 455.0 453.1C463.8 453.4 476.0 454.1 486.5 453.6C497.0 453.1 507.6 451.3 518.1 450.0C528.6 448.7 539.1 446.9 549.6 445.7C560.1 444.5 573.3 443.5 581.2 442.9C589.1 442.3 591.4 441.8 597.0 442.0C602.6 442.2 609.4 443.2 615.0 444.1C620.6 445.0 624.2 446.5 630.5 447.3C636.8 448.1 645.0 449.2 652.6 448.9C660.2 448.6 668.8 447.4 676.2 445.7C683.6 444.0 689.4 441.2 696.8 438.6C704.2 436.0 712.5 432.7 720.4 430.3C728.3 427.9 735.7 425.7 744.0 424.4C752.3 423.1 760.9 421.7 770.0 422.4C779.1 423.1 788.2 426.8 798.5 428.5C808.8 430.2 822.2 431.6 832.0 432.7C841.8 433.8 848.7 435.2 857.1 435.2C865.5 435.2 875.3 433.5 882.3 432.7C889.3 431.9 893.3 431.1 899.0 430.2C904.7 429.3 913.7 427.6 916.6 427.1" fill="none" stroke="#f7861e" stroke-width="1.2" shape-rendering="geometricPrecision" stroke-linejoin="round"/>
<path d="M0.0 413.4C1.6 413.5 6.9 413.6 9.5 413.9C12.1 414.2 12.1 414.9 15.8 415.0C19.5 415.1 24.9 415.4 31.5 414.2C38.1 413.0 48.6 407.9 55.2 407.9C61.8 407.8 64.4 412.7 71.0 413.9C77.6 415.1 88.0 414.4 94.6 415.0C101.2 415.6 105.1 416.6 110.4 417.4C115.7 418.2 120.9 419.0 126.2 419.7C131.5 420.4 138.0 421.0 142.0 421.3C146.0 421.6 146.0 421.2 150.0 421.6C154.0 422.0 160.6 423.3 165.8 423.6C171.1 423.9 177.0 423.2 181.5 423.6C186.0 424.1 188.7 426.1 192.6 426.3C196.5 426.5 199.1 425.0 205.2 424.7C211.2 424.4 222.3 424.4 228.9 424.7C235.5 425.0 239.3 424.9 244.6 426.3C249.8 427.8 255.7 430.5 260.4 433.4C265.1 436.3 268.5 441.2 273.0 443.6C277.5 446.0 282.7 447.2 287.2 447.9C291.7 448.6 294.7 447.9 300.0 447.6C305.3 447.3 311.8 445.7 318.9 446.3C326.0 446.9 335.2 451.0 342.6 451.5C350.0 452.0 356.5 449.1 363.1 449.2C369.7 449.3 376.8 451.9 382.0 452.0C387.2 452.1 389.9 450.3 394.6 450.0C399.3 449.7 405.1 449.8 410.4 450.0C415.7 450.2 420.4 449.9 426.2 451.0C432.0 452.1 440.3 455.8 445.1 456.7C449.9 457.6 450.7 457.0 455.0 456.7C459.3 456.4 465.6 455.4 470.8 454.7C476.1 454.0 481.2 453.2 486.5 452.3C491.8 451.4 497.0 450.2 502.3 449.2C507.6 448.2 512.3 447.4 518.1 446.3C523.9 445.2 531.2 443.0 537.0 442.4C542.8 441.8 547.5 443.2 552.8 442.9C558.1 442.6 563.4 441.2 568.6 440.5C573.9 439.8 580.4 439.2 584.3 438.9C588.2 438.6 588.8 438.0 592.2 438.9C595.6 439.8 601.8 443.0 604.8 444.4C607.8 445.8 606.5 445.2 610.0 447.0C613.5 448.8 620.5 454.2 625.8 454.9C631.0 455.6 636.2 452.8 641.5 451.3C646.8 449.8 651.5 447.7 657.3 445.7C663.1 443.7 670.4 441.9 676.2 439.4C682.0 436.9 686.7 434.1 692.0 430.8C697.3 427.5 703.1 421.7 707.8 419.7C712.5 417.7 713.6 418.7 720.4 418.6C727.2 418.5 742.2 418.8 748.8 419.2C755.4 419.6 757.1 420.6 759.8 421.3C762.5 422.0 761.3 422.4 765.0 423.5C768.7 424.6 776.2 425.8 781.8 427.6C787.4 429.4 792.9 433.3 798.5 434.3C804.1 435.3 810.3 433.8 815.3 433.8C820.3 433.8 824.0 433.6 828.7 434.3C833.4 435.0 839.0 437.9 843.7 438.2C848.4 438.5 852.1 436.9 857.1 436.0C862.1 435.1 867.5 434.1 873.9 432.7C880.3 431.3 890.1 429.2 895.7 427.6C901.3 426.0 903.9 424.1 907.4 423.1C910.9 422.1 915.1 422.0 916.6 421.8" fill="none" stroke="#3f6fe6" stroke-width="1.2" shape-rendering="geometricPrecision" stroke-linejoin="round"/>
<text x="964.3" y="16.6" font-size="11.6" fill="#2a2e39">0.79000</text>
<text x="964.3" y="61.1" font-size="11.6" fill="#2a2e39">0.78000</text>
<text x="964.3" y="105.5" font-size="11.6" fill="#2a2e39">0.77000</text>
<text x="964.3" y="150.0" font-size="11.6" fill="#2a2e39">0.76000</text>
<text x="964.3" y="194.5" font-size="11.6" fill="#2a2e39">0.75000</text>
<text x="964.3" y="239.0" font-size="11.6" fill="#2a2e39">0.74000</text>
<text x="964.3" y="283.4" font-size="11.6" fill="#2a2e39">0.73000</text>
<text x="964.3" y="327.9" font-size="11.6" fill="#2a2e39">0.72000</text>
<text x="964.3" y="372.4" font-size="11.6" fill="#2a2e39">0.71000</text>
<text x="964.3" y="427.8" font-size="11.6" fill="#2a2e39">0.00000</text>
<text x="-0.6" y="481" font-size="12" fill="#2a2e39">May</text>
<text x="172.5" y="481" font-size="12" fill="#2a2e39" text-anchor="middle">Jun</text>
<text x="258.5" y="481" font-size="12" fill="#2a2e39" text-anchor="middle">16</text>
<text x="343.5" y="481" font-size="12" fill="#2a2e39" text-anchor="middle">Jul</text>
<text x="428.5" y="481" font-size="12" fill="#2a2e39" text-anchor="middle">16</text>
<text x="513.5" y="481" font-size="12" fill="#2a2e39" text-anchor="middle">Aug</text>
<text x="599.5" y="481" font-size="12" fill="#2a2e39" text-anchor="middle">17</text>
<text x="684.5" y="481" font-size="12" fill="#2a2e39" text-anchor="middle">Sep</text>
<text x="769.5" y="481" font-size="12" fill="#2a2e39" text-anchor="middle">16</text>
<text x="855.5" y="481" font-size="12" fill="#2a2e39" text-anchor="middle">Oct</text>
<text x="940.5" y="481" font-size="12" fill="#2a2e39" text-anchor="middle">18</text>
<text x="665.3" y="39.6" font-size="23.3" fill="#24134f" stroke="#24134f" stroke-width="0.85" textLength="99.2" lengthAdjust="spacingAndGlyphs" shape-rendering="geometricPrecision">AUD/USD</text>
<text x="772.8" y="39.6" font-size="23.3" fill="#24134f" stroke="#24134f" stroke-width="0.85" textLength="53.3" lengthAdjust="spacingAndGlyphs" shape-rendering="geometricPrecision">Daily</text>
<text x="835.5" y="39.6" font-size="23.3" fill="#24134f" stroke="#24134f" stroke-width="0.85" textLength="60.2" lengthAdjust="spacingAndGlyphs" shape-rendering="geometricPrecision">Chart</text>
<g shape-rendering="geometricPrecision"><circle cx="989.5" cy="477.5" r="4.8" fill="none" stroke="#131722" stroke-width="1.2"/><path d="M994.70 477.50L996.90 477.50 M993.18 481.18L994.45 482.45 M989.50 482.70L989.50 484.90 M985.82 481.18L984.55 482.45 M984.30 477.50L982.10 477.50 M985.82 473.82L984.55 472.55 M989.50 472.30L989.50 470.10 M993.18 473.82L994.45 472.55" stroke="#131722" stroke-width="1.2"/></g>
</svg></body></html>
